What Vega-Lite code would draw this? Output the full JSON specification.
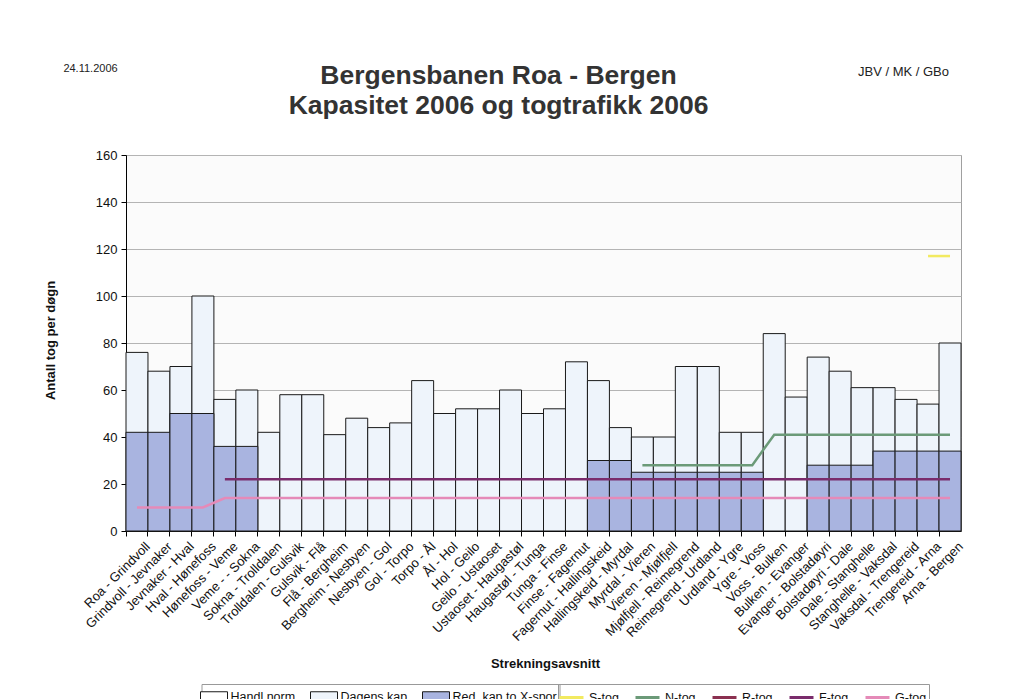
{
  "$schema": "https://vega.github.io/schema/vega-lite/v6.json",
  "width": 835,
  "height": 376,
  "autosize": {"type": "none"},
  "padding": {"left": 126, "top": 155, "right": 63, "bottom": 168},
  "background": "#ffffff",
  "config": {
    "font": "Liberation Sans",
    "view": {"fill": "#fbfbfb", "stroke": "#a0a0a0", "strokeWidth": 1}
  },
  "title": {
    "text": ["Bergensbanen Roa - Bergen", "Kapasitet 2006 og togtrafikk 2006"],
    "anchor": "middle",
    "dx": -45,
    "offset": -57,
    "font": "Liberation Sans Narrow, Liberation Sans",
    "fontSize": 26.5,
    "fontWeight": "bold",
    "lineHeight": 30,
    "color": "#333333"
  },
  "datasets": {
    "segs": [
      {"seg": "Roa - Grindvoll", "dagens": 76, "red": 42, "G": 10},
      {"seg": "Grindvoll - Jevnaker", "dagens": 68, "red": 42, "G": 10},
      {"seg": "Jevnaker - Hval", "dagens": 70, "red": 50, "G": 10},
      {"seg": "Hval - Hønefoss", "dagens": 100, "red": 50, "G": 10},
      {"seg": "Hønefoss - Veme", "dagens": 56, "red": 36, "G": 14, "F": 22},
      {"seg": "Veme - - Sokna", "dagens": 60, "red": 36, "G": 14, "F": 22},
      {"seg": "Sokna - Trolldalen", "dagens": 42, "G": 14, "F": 22},
      {"seg": "Trolldalen - Gulsvik", "dagens": 58, "G": 14, "F": 22},
      {"seg": "Gulsvik - Flå", "dagens": 58, "G": 14, "F": 22},
      {"seg": "Flå - Bergheim", "dagens": 41, "G": 14, "F": 22},
      {"seg": "Bergheim - Nesbyen", "dagens": 48, "G": 14, "F": 22},
      {"seg": "Nesbyen - Gol", "dagens": 44, "G": 14, "F": 22},
      {"seg": "Gol - Torpo", "dagens": 46, "G": 14, "F": 22},
      {"seg": "Torpo - Ål", "dagens": 64, "G": 14, "F": 22},
      {"seg": "Ål - Hol", "dagens": 50, "G": 14, "F": 22},
      {"seg": "Hol - Geilo", "dagens": 52, "G": 14, "F": 22},
      {"seg": "Geilo - Ustaoset", "dagens": 52, "G": 14, "F": 22},
      {"seg": "Ustaoset - Haugastøl", "dagens": 60, "G": 14, "F": 22},
      {"seg": "Haugastøl - Tunga", "dagens": 50, "G": 14, "F": 22},
      {"seg": "Tunga - Finse", "dagens": 52, "G": 14, "F": 22},
      {"seg": "Finse - Fagernut", "dagens": 72, "G": 14, "F": 22},
      {"seg": "Fagernut - Hallingskeid", "dagens": 64, "red": 30, "G": 14, "F": 22},
      {"seg": "Hallingskeid - Myrdal", "dagens": 44, "red": 30, "G": 14, "F": 22},
      {"seg": "Myrdal - Vieren", "dagens": 40, "red": 25, "G": 14, "F": 22, "N": 28},
      {"seg": "Vieren - Mjølfjell", "dagens": 40, "red": 25, "G": 14, "F": 22, "N": 28},
      {"seg": "Mjølfjell - Reimegrend", "dagens": 70, "red": 25, "G": 14, "F": 22, "N": 28},
      {"seg": "Reimegrend - Urdland", "dagens": 70, "red": 25, "G": 14, "F": 22, "N": 28},
      {"seg": "Urdland - Ygre", "dagens": 42, "red": 25, "G": 14, "F": 22, "N": 28},
      {"seg": "Ygre - Voss", "dagens": 42, "red": 25, "G": 14, "F": 22, "N": 28},
      {"seg": "Voss - Bulken", "dagens": 84, "G": 14, "F": 22, "N": 41},
      {"seg": "Bulken - Evanger", "dagens": 57, "G": 14, "F": 22, "N": 41},
      {"seg": "Evanger - Bolstadøyri", "dagens": 74, "red": 28, "G": 14, "F": 22, "N": 41},
      {"seg": "Bolstadøyri - Dale", "dagens": 68, "red": 28, "G": 14, "F": 22, "N": 41},
      {"seg": "Dale - Stanghelle", "dagens": 61, "red": 28, "G": 14, "F": 22, "N": 41},
      {"seg": "Stanghelle - Vaksdal", "dagens": 61, "red": 34, "G": 14, "F": 22, "N": 41},
      {"seg": "Vaksdal - Trengereid", "dagens": 56, "red": 34, "G": 14, "F": 22, "N": 41},
      {"seg": "Trengereid - Arna", "dagens": 54, "red": 34, "G": 14, "F": 22, "N": 41, "S": 117},
      {"seg": "Arna - Bergen", "dagens": 80, "red": 34, "G": 14, "F": 22, "N": 41, "S": 117}
    ]
  },
  "data": {"name": "segs"},
  "layer": [
    {
      "layer": [
        {
          "mark": {"type": "bar", "stroke": "#1a1a1a", "strokeWidth": 1},
          "encoding": {
            "x": {
              "field": "seg", "type": "nominal", "sort": null, "title": "Strekningsavsnitt",
              "scale": {"paddingInner": 0, "paddingOuter": 0},
              "axis": {
                "bandPosition": 0, "labelOffset": 11, "labelAngle": -45, "labelAlign": "right",
                "labelBaseline": "middle", "labelFontSize": 13, "labelColor": "#111111",
                "labelPadding": 8, "tickSize": 5, "tickColor": "#000000", "domainColor": "#000000",
                "grid": false, "labelOverlap": false,
                "titleFontSize": 13, "titleFontWeight": "bold", "titleColor": "#111111",
                "titleX": 419, "titleY": 132, "titleBaseline": "middle", "titleAlign": "center"
              }
            },
            "y": {
              "field": "dagens", "type": "quantitative", "title": "Antall tog per døgn",
              "scale": {"domain": [0, 160], "nice": false},
              "axis": {
                "values": [0, 20, 40, 60, 80, 100, 120, 140, 160],
                "labelFontSize": 13, "labelColor": "#111111", "labelPadding": 4,
                "tickSize": 5, "tickColor": "#000000", "domainColor": "#000000",
                "gridColor": "#b4b4b4", "gridWidth": 1,
                "titleFontSize": 13, "titleFontWeight": "bold", "titleColor": "#111111",
                "titleX": -76, "titleY": 185, "titleAlign": "center", "titleBaseline": "middle"
              }
            },
            "fill": {
              "datum": "Dagens kap", "type": "nominal",
              "scale": {
                "domain": ["Handl.norm", "Dagens kap", "Red. kap to X-spor"],
                "range": ["#ffffff", "#eef4fb", "#a9b4e0"]
              },
              "legend": {
                "orient": "none", "legendX": 75.5, "legendY": 529, "direction": "horizontal",
                "title": null, "symbolType": "M-1.35,-0.5H1.35V0.5H-1.35Z", "symbolSize": 400,
                "symbolStrokeColor": "#000000", "symbolStrokeWidth": 1, "labelOffset": 6,
                "labelFontSize": 12.5, "labelColor": "#111111", "columnPadding": 13,
                "strokeColor": "#999999", "padding": 2, "labelLimit": 200
              }
            }
          }
        },
        {
          "mark": {"type": "bar", "stroke": "#1a1a1a", "strokeWidth": 1},
          "encoding": {
            "x": {"field": "seg", "type": "nominal", "sort": null, "title": "Strekningsavsnitt"},
            "y": {"field": "red", "type": "quantitative", "title": "Antall tog per døgn"},
            "fill": {"datum": "Red. kap to X-spor", "type": "nominal"}
          }
        },
        {
          "mark": {"type": "line", "strokeWidth": 2.5},
          "encoding": {
            "x": {"field": "seg", "type": "nominal", "sort": null, "title": "Strekningsavsnitt"},
            "y": {"field": "G", "type": "quantitative", "title": "Antall tog per døgn"},
            "stroke": {
              "datum": "G-tog", "type": "nominal",
              "scale": {
                "domain": ["S-tog", "N-tog", "R-tog", "F-tog", "G-tog"],
                "range": ["#f2ea60", "#6b9a78", "#8b3050", "#7a2c6c", "#e58ab8"]
              },
              "legend": {
                "orient": "none", "legendX": 432, "legendY": 529, "direction": "horizontal",
                "title": null, "symbolType": "M-1.2,0H1.2", "symbolSize": 400, "symbolStrokeWidth": 3,
                "labelOffset": 6, "labelFontSize": 12.5, "labelColor": "#111111", "columnPadding": 10,
                "strokeColor": "#999999", "padding": 2
              }
            }
          }
        },
        {
          "mark": {"type": "line", "strokeWidth": 2.5},
          "encoding": {
            "x": {"field": "seg", "type": "nominal", "sort": null, "title": "Strekningsavsnitt"},
            "y": {"field": "F", "type": "quantitative", "title": "Antall tog per døgn"},
            "stroke": {"datum": "F-tog", "type": "nominal"}
          }
        },
        {
          "mark": {"type": "line", "strokeWidth": 2.5},
          "encoding": {
            "x": {"field": "seg", "type": "nominal", "sort": null, "title": "Strekningsavsnitt"},
            "y": {"field": "N", "type": "quantitative", "title": "Antall tog per døgn"},
            "stroke": {"datum": "N-tog", "type": "nominal"}
          }
        },
        {
          "mark": {"type": "line", "strokeWidth": 2.5},
          "encoding": {
            "x": {"field": "seg", "type": "nominal", "sort": null, "title": "Strekningsavsnitt"},
            "y": {"field": "S", "type": "quantitative", "title": "Antall tog per døgn"},
            "stroke": {"datum": "S-tog", "type": "nominal"}
          }
        }
      ]
    },
    {
      "mark": {"type": "point", "opacity": 0},
      "encoding": {
        "x": {
          "field": "dagens", "type": "quantitative", "title": "24.11.2006",
          "axis": {
            "orient": "top", "labels": false, "ticks": false, "domain": false, "grid": false,
            "titleFontSize": 11, "titleFontWeight": "normal", "titleColor": "#222222",
            "titleFont": "Liberation Sans Narrow, Liberation Sans",
            "titleX": -36, "titleY": -87, "titleAlign": "center", "titleBaseline": "middle"
          }
        },
        "y": {
          "field": "dagens", "type": "quantitative", "title": "JBV / MK / GBo",
          "axis": {
            "orient": "right", "labels": false, "ticks": false, "domain": false, "grid": false,
            "titleFontSize": 13, "titleFontWeight": "normal", "titleColor": "#222222",
            "titleFont": "Liberation Sans Narrow, Liberation Sans",
            "titleAngle": 0, "titleX": -58, "titleY": -84, "titleAlign": "center", "titleBaseline": "middle"
          }
        }
      }
    }
  ],
  "resolve": {"scale": {"x": "independent", "y": "independent"}}
}
